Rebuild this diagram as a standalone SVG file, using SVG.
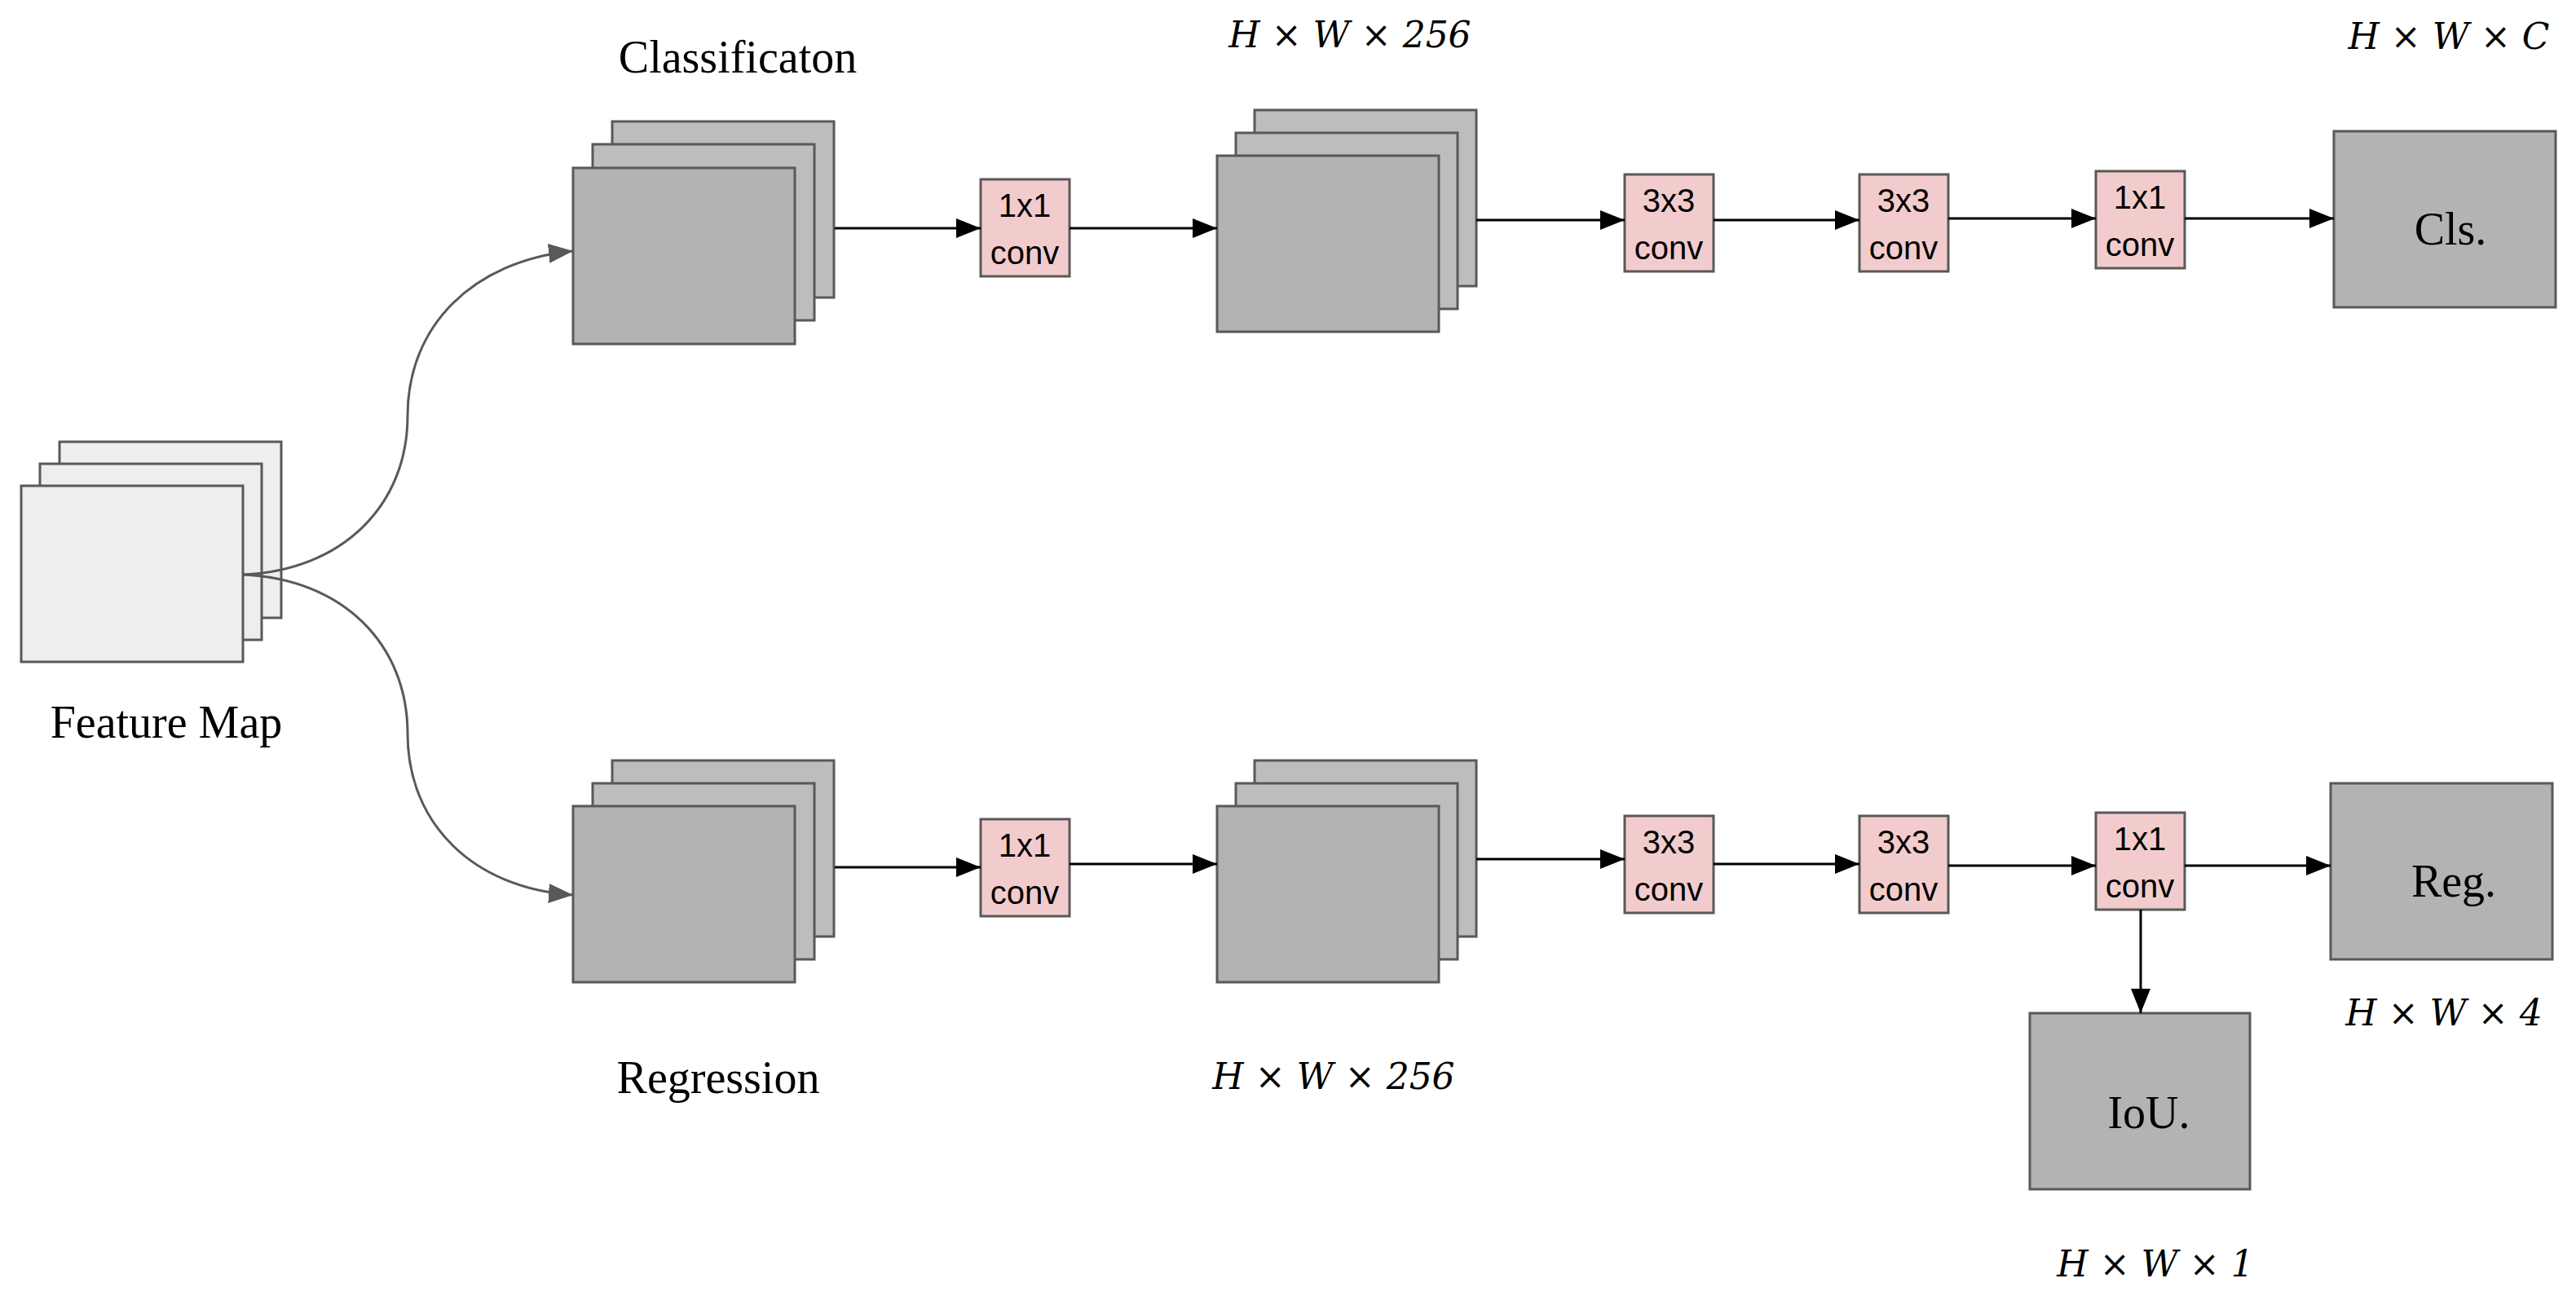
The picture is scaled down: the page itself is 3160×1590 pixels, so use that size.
<svg xmlns="http://www.w3.org/2000/svg" width="3160" height="1590" viewBox="0 0 3160 1590">
<style>
.fm{fill:#eeeeee;stroke:#595959;stroke-width:3}
.bk{fill:#bdbdbd;stroke:#595959;stroke-width:3}
.fr{fill:#b3b3b3;stroke:#595959;stroke-width:3}
.cv{fill:#f2cccc;stroke:#595959;stroke-width:3}
.ct{font-family:"Liberation Sans",Arial,sans-serif;font-size:40px;text-anchor:middle;fill:#000}
.st{font-family:"Liberation Serif","Times New Roman",serif;font-size:56px;text-anchor:middle;fill:#000}
.mt{font-family:"DejaVu Serif","Liberation Serif",serif;font-size:44px;text-anchor:middle;fill:#000}
.ar{stroke:#000;stroke-width:3;fill:none;marker-end:url(#ah)}
.cu{stroke:#595959;stroke-width:3;fill:none;marker-end:url(#ahg)}
</style>
<defs>
<marker id="ah" markerUnits="userSpaceOnUse" markerWidth="30" markerHeight="24" refX="30" refY="12" orient="auto"><path d="M0,0 L30,12 L0,24 Z" fill="#000"/></marker>
<marker id="ahg" markerUnits="userSpaceOnUse" markerWidth="30" markerHeight="24" refX="30" refY="12" orient="auto"><path d="M0,0 L30,12 L0,24 Z" fill="#595959"/></marker>
</defs>
<rect width="3160" height="1590" fill="#fff"/>
<g id="featuremap">
<rect class="fm" x="73" y="542" width="272" height="216"/>
<rect class="fm" x="49" y="569" width="272" height="216"/>
<rect class="fm" x="26" y="596" width="272" height="216"/>
<text class="st" x="204" y="905">Feature Map</text>
</g>
<g id="cls-stack">
<rect class="bk" x="751" y="149" width="272" height="216"/>
<rect class="bk" x="727" y="177" width="272" height="216"/>
<rect class="fr" x="703" y="206" width="272" height="216"/>
<text class="st" x="905" y="89">Classificaton</text>
</g>
<g id="reg-stack">
<rect class="bk" x="751" y="933" width="272" height="216"/>
<rect class="bk" x="727" y="961" width="272" height="216"/>
<rect class="fr" x="703" y="989" width="272" height="216"/>
<text class="st" x="881" y="1341">Regression</text>
</g>
<g id="cls-conv1"><rect class="cv" x="1203" y="220" width="109" height="119"/><text class="ct" x="1257" y="266">1x1</text><text class="ct" x="1257" y="324">conv</text></g>
<g id="reg-conv1"><rect class="cv" x="1203" y="1005" width="109" height="119"/><text class="ct" x="1257" y="1051">1x1</text><text class="ct" x="1257" y="1109">conv</text></g>
<g id="cls-stack2">
<rect class="bk" x="1539" y="135" width="272" height="216"/>
<rect class="bk" x="1516" y="163" width="272" height="216"/>
<rect class="fr" x="1493" y="191" width="272" height="216"/>
<text class="mt" x="1656" y="58" font-style="italic">H × W × 256</text>
</g>
<g id="reg-stack2">
<rect class="bk" x="1539" y="933" width="272" height="216"/>
<rect class="bk" x="1516" y="961" width="272" height="216"/>
<rect class="fr" x="1493" y="989" width="272" height="216"/>
<text class="mt" x="1636" y="1336" font-style="italic">H × W × 256</text>
</g>
<g id="cls-conv2"><rect class="cv" x="1993" y="214" width="109" height="119"/><text class="ct" x="2047" y="260">3x3</text><text class="ct" x="2047" y="318">conv</text></g>
<g id="cls-conv3"><rect class="cv" x="2281" y="214" width="109" height="119"/><text class="ct" x="2335" y="260">3x3</text><text class="ct" x="2335" y="318">conv</text></g>
<g id="cls-conv4"><rect class="cv" x="2571" y="210" width="109" height="119"/><text class="ct" x="2625" y="256">1x1</text><text class="ct" x="2625" y="314">conv</text></g>
<g id="reg-conv2"><rect class="cv" x="1993" y="1001" width="109" height="119"/><text class="ct" x="2047" y="1047">3x3</text><text class="ct" x="2047" y="1105">conv</text></g>
<g id="reg-conv3"><rect class="cv" x="2281" y="1001" width="109" height="119"/><text class="ct" x="2335" y="1047">3x3</text><text class="ct" x="2335" y="1105">conv</text></g>
<g id="reg-conv4"><rect class="cv" x="2571" y="997" width="109" height="119"/><text class="ct" x="2625" y="1043">1x1</text><text class="ct" x="2625" y="1101">conv</text></g>
<g id="cls-out"><rect class="fr" x="2863" y="161" width="272" height="216"/><text class="st" x="3006" y="300">Cls.</text><text class="mt" x="3004" y="60" font-style="italic">H × W × C</text></g>
<g id="reg-out"><rect class="fr" x="2859" y="961" width="272" height="216"/><text class="st" x="3010" y="1100">Reg.</text><text class="mt" x="2998" y="1258" font-style="italic">H × W × 4</text></g>
<g id="iou-out"><rect class="fr" x="2490" y="1243" width="270" height="216"/><text class="st" x="2636" y="1384">IoU.</text><text class="mt" x="2644" y="1566" font-style="italic">H × W × 1</text></g>
<g id="connectors">
<path class="cu" d="M298,705 C420,700 500,620 500,510 C500,400 580,320 703,308"/>
<path class="cu" d="M298,705 C420,710 500,790 500,900 C500,1010 580,1090 703,1098"/>
<line class="ar" x1="1024" y1="280" x2="1203" y2="280"/>
<line class="ar" x1="1312" y1="280" x2="1493" y2="280"/>
<line class="ar" x1="1811" y1="270" x2="1993" y2="270"/>
<line class="ar" x1="2102" y1="270" x2="2281" y2="270"/>
<line class="ar" x1="2390" y1="268" x2="2571" y2="268"/>
<line class="ar" x1="2680" y1="268" x2="2863" y2="268"/>
<line class="ar" x1="1024" y1="1064" x2="1203" y2="1064"/>
<line class="ar" x1="1312" y1="1060" x2="1493" y2="1060"/>
<line class="ar" x1="1811" y1="1054" x2="1993" y2="1054"/>
<line class="ar" x1="2102" y1="1060" x2="2281" y2="1060"/>
<line class="ar" x1="2390" y1="1062" x2="2571" y2="1062"/>
<line class="ar" x1="2680" y1="1062" x2="2859" y2="1062"/>
<line class="ar" x1="2626" y1="1116" x2="2626" y2="1243"/>
</g>
</svg>
